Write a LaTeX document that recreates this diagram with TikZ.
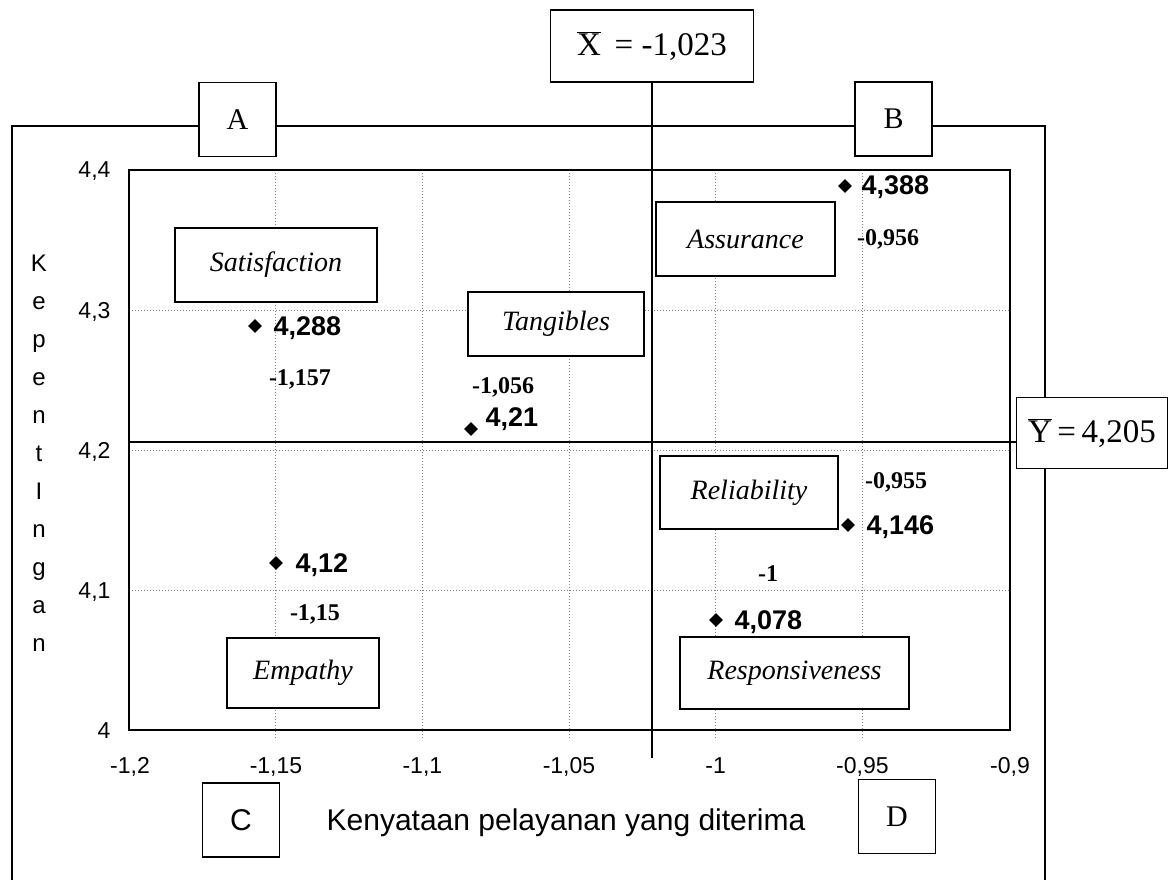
\documentclass[tikz,border=0pt]{standalone}
\usepackage{fontspec}
\setmainfont{Liberation Serif}
\setsansfont{Liberation Sans}
\usetikzlibrary{calc,shapes.geometric}

\tikzset{
    quadbox/.style={draw, line width=1.6pt, fill=white, minimum width=77pt, minimum height=74pt, font=\fontsize{30}{30}\selectfont},
    labelbox/.style={draw, line width=1.6pt, fill=white, inner sep=0pt, font=\fontsize{28}{28}\selectfont\itshape},
    meanbox/.style={draw, line width=1.6pt, fill=white, minimum height=72pt, font=\fontsize{33}{33}\selectfont},
    ticklabel/.style={font=\sffamily\fontsize{23}{23}\selectfont, anchor=base},
    axisletter/.style={font=\sffamily\fontsize{24}{24}\selectfont, anchor=base},
    valuelabel/.style={font=\sffamily\bfseries\fontsize{27}{27}\selectfont, anchor=base west},
    coordlabel/.style={font=\bfseries\fontsize{24}{24}\selectfont, anchor=base},
    gridline/.style={gray, dotted, line width=1pt},
    datapoint/.style={diamond, fill=black, inner sep=0pt, minimum size=14pt}
}

\begin{document}
\begin{tikzpicture}[x=1pt, y=-1pt]
    \useasboundingbox (0, 0) rectangle (1171, 880);

    % outer frame
    \draw[line width=1.3pt] (12, 880) -- (12, 126) -- (1045, 126) -- (1045, 880);

    % grid
    \foreach \gx in {275.8, 422.4, 569, 715.6, 862.4}
        \draw[gridline] (\gx, 170) -- (\gx, 738);
    \foreach \gy in {310, 450, 590}
        \draw[gridline] (129, \gy) -- (1010, \gy);

    \draw[line width=2.6pt] (129, 170) rectangle (1010, 730);

    % axes
    \foreach \tx/\tl [count=\i] in {130/{-1,2}, 276/{-1,15}, 422.4/{-1,1}, 569/{-1,05}, 715.6/{-1}, 862.4/{-0,95}, 1010/{-0,9}}
        \node[ticklabel] (xt\i) at (\tx, 773) {\tl};
    \foreach \ty/\tl [count=\i] in {170/{4,4}, 310/{4,3}, 450/{4,2}, 590/{4,1}, 730/{4}}
        \node[ticklabel, anchor=base east] (yt\i) at (114, \ty + 8) {\tl};
    \foreach \ch [count=\i from 0] in {K,e,p,e,n,t,I,n,g,a,n}
        \node[axisletter] (ya\i) at (39, 271 + 38*\i) {\ch};
    \node[font=\sffamily\fontsize{30}{30}\selectfont] (xtitle) at (566, 823) {Kenyataan pelayanan yang diterima};

    % mean lines
    \node[meanbox, minimum width=203pt] (xmean) at (652, 46) {$\overline{\hbox{X}}$\, = -1,023};
    \coordinate (xend) at (652, 758);
    \node[meanbox, minimum width=151pt, minimum height=71pt] (ymean) at (1092, 433) {$\overline{\hbox{Y}}$\,=\,4,205};
    \coordinate (ystart) at (129, 442);
    \draw[line width=1.3pt] (xmean.south) -- (xend);
    \draw[line width=1.3pt] (ystart) -- (ystart -| ymean.west);

    % quadrants
    \node[quadbox] (qa) at (237.5, 119.5) {A};
    \node[quadbox] (qb) at (893.5, 119) {B};
    \node[quadbox, font=\sffamily\fontsize{30}{30}\selectfont] (qc) at (241, 820) {C};
    \node[quadbox] (qd) at (897, 816.5) {D};

    % dimensions
    \node[labelbox, minimum width=202pt, minimum height=74pt] (satisfaction) at (276, 265) {Satisfaction};
    \node[labelbox, minimum width=176pt, minimum height=64pt] (tangibles) at (556, 324) {Tangibles};
    \node[labelbox, minimum width=179pt, minimum height=74pt] (assurance) at (745.5, 239) {Assurance};
    \node[labelbox, minimum width=178pt, minimum height=73pt] (reliability) at (749, 492.5) {Reliability};
    \node[labelbox, minimum width=229pt, minimum height=72pt] (responsiveness) at (794.5, 673) {Responsiveness};
    \node[labelbox, minimum width=152pt, minimum height=70pt] (empathy) at (303, 673) {Empathy};

    % points
    \node[datapoint] (psat) at (255, 326) {};
    \node[valuelabel] (vsat) at (270, 335) {4,288};
    \node[coordlabel] (csat) at (300, 385) {-1,157};

    \node[datapoint] (ptan) at (471, 429) {};
    \node[valuelabel] (vtan) at (482, 426) {4,21};
    \node[coordlabel] (ctan) at (503, 393) {-1,056};

    \node[datapoint] (pass) at (845, 186) {};
    \node[valuelabel] (vass) at (858, 195) {4,388};
    \node[coordlabel] (cass) at (888, 245) {-0,956};

    \node[datapoint] (prel) at (848, 525) {};
    \node[valuelabel] (vrel) at (863, 534) {4,146};
    \node[coordlabel] (crel) at (896, 488) {-0,955};

    \node[datapoint] (pres) at (716, 620) {};
    \node[valuelabel] (vres) at (731, 629) {4,078};
    \node[coordlabel] (cres) at (768, 581) {-1};

    \node[datapoint] (pemp) at (276, 563) {};
    \node[valuelabel] (vemp) at (292, 572) {4,12};
    \node[coordlabel] (cemp) at (315, 620) {-1,15};
\end{tikzpicture}
\end{document}
